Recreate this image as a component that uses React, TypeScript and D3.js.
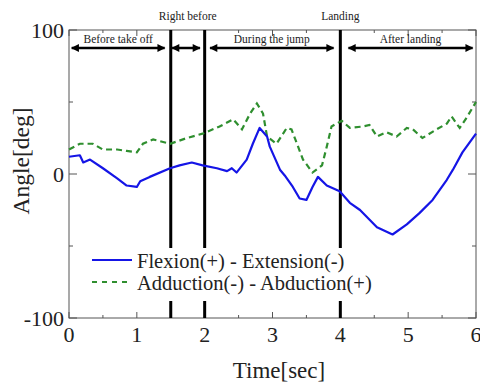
import React from "react";
import * as d3 from "d3";

const flexT = [0, 0.16, 0.21, 0.31, 0.5, 0.71, 0.85, 1.0, 1.05, 1.19, 1.49, 1.63, 1.81, 1.97, 2.18, 2.33, 2.4, 2.47, 2.62, 2.71, 2.81, 2.92, 2.96, 3.11, 3.18, 3.3, 3.4, 3.5, 3.59, 3.67, 3.8, 3.99, 4.14, 4.29, 4.54, 4.77, 4.98, 5.17, 5.36, 5.57, 5.66, 5.8, 6.0];
const flexV = [12, 13, 8, 10, 4, -3, -8, -9, -5, -2, 4, 6, 8, 6, 4, 2, 4, 1, 10, 21, 32, 26, 19, 3, -1, -9, -17, -18, -9, -2, -8, -12, -20, -25, -37, -42, -35, -27, -18, -4, 3, 15, 28];

const addT = [0, 0.16, 0.35, 0.5, 0.71, 0.85, 1.0, 1.09, 1.24, 1.49, 1.74, 1.97, 2.22, 2.42, 2.55, 2.67, 2.77, 2.86, 2.92, 3.06, 3.21, 3.28, 3.45, 3.59, 3.73, 3.8, 3.87, 4.02, 4.14, 4.33, 4.43, 4.54, 4.68, 4.83, 4.98, 5.07, 5.21, 5.42, 5.57, 5.64, 5.76, 5.86, 6.0];
const addV = [17, 21, 21, 17, 17, 16, 15, 21, 24, 21, 25, 28, 33, 38, 31, 42, 49, 42, 26, 21, 32, 31, 10, 1, 6, 19, 33, 37, 32, 33, 34, 26, 29, 26, 32, 31, 25, 31, 35, 40, 32, 39, 50];

const xTicks = [0, 1, 2, 3, 4, 5, 6];
const yTicks = [-100, 0, 100];
const phaseLines = [1.5, 2, 4];
const arrowStart = [0.04, 1.52, 2.08, 4.12];
const arrowEnd = [1.41, 1.93, 3.9, 5.95];
const arrowLabels = ["Before take off", "", "During the jump", "After landing"];
const topLabels = ["Right before", "Landing"];
const topLabelT = [1.75, 4];
const seriesNames = ["Flexion(+) - Extension(-)", "Adduction(-) - Abduction(+)"];

const FONT = "'Liberation Serif', 'Times New Roman', serif";

export default function App() {
  const x = d3.scaleLinear().domain([0, 6]).range([69, 476]);
  const y = d3.scaleLinear().domain([-100, 100]).range([318, 30]);
  const line = d3.line<number>().x((d: any) => x(d[0])).y((d: any) => y(d[1])).curve(d3.curveLinear);
  const flex = flexT.map((t, i) => [t, flexV[i]]);
  const add = addT.map((t, i) => [t, addV[i]]);
  const minorX = d3.range(0, 6.01, 0.5);
  const minorY = [-50, 50];
  const arrowY = 48;

  return (
    <svg width={480} height={383} style={{ position: "absolute", left: 0, top: 0, background: "#fff" }} fontFamily={FONT}>
      <defs>
        <marker id="ah" viewBox="0 0 10 10" refX="9" refY="5" markerWidth="4" markerHeight="3.2" orient="auto-start-reverse" markerUnits="strokeWidth">
          <path d="M0,0 L10,5 L0,10 z" fill="#000" />
        </marker>
      </defs>
      {/* frame */}
      <rect x={x(0)} y={y(100)} width={x(6) - x(0)} height={y(-100) - y(100)} fill="none" stroke="#555" strokeWidth={1} />
      {/* x ticks */}
      {minorX.map((t) => {
        const len = Number.isInteger(t) ? 6 : 3;
        return (
          <g key={"xt" + t}>
            <line x1={x(t)} x2={x(t)} y1={y(-100)} y2={y(-100) - len} stroke="#555" />
            <line x1={x(t)} x2={x(t)} y1={y(100)} y2={y(100) + len} stroke="#555" />
          </g>
        );
      })}
      {[...yTicks, ...minorY].map((v) => {
        const len = v % 100 === 0 ? 8 : 4;
        return (
          <g key={"yt" + v}>
            <line x1={x(0)} x2={x(0) + len} y1={y(v)} y2={y(v)} stroke="#555" />
            <line x1={x(6)} x2={x(6) - len} y1={y(v)} y2={y(v)} stroke="#555" />
          </g>
        );
      })}
      {xTicks.map((t) => (
        <text key={"xl" + t} x={x(t)} y={342} textAnchor="middle" fontSize={22} fill="#222">{t}</text>
      ))}
      {yTicks.map((v) => (
        <text key={"yl" + v} x={64} y={y(v) + 8} textAnchor="end" fontSize={22} fill="#222">{v}</text>
      ))}
      <text x={279} y={378} textAnchor="middle" fontSize={23} fill="#222">Time[sec]</text>
      <text transform={`translate(29,${161}) rotate(-90)`} textAnchor="middle" fontSize={23.5} fill="#222">Angle[deg]</text>
      {/* phase lines */}
      {phaseLines.map((t) => (
        <line key={"pl" + t} x1={x(t)} x2={x(t)} y1={y(100)} y2={y(-100)} stroke="#000" strokeWidth={3} />
      ))}
      {/* arrows */}
      {arrowStart.map((s, i) => (
        <g key={"ar" + i}>
          <line x1={x(s)} x2={x(arrowEnd[i])} y1={arrowY} y2={arrowY} stroke="#000" strokeWidth={2.5} markerStart="url(#ah)" markerEnd="url(#ah)" />
          {arrowLabels[i] && (
            <text x={(x(s) + x(arrowEnd[i])) / 2} y={43} textAnchor="middle" fontSize={11.5} fill="#222">{arrowLabels[i]}</text>
          )}
        </g>
      ))}
      {topLabels.map((l, i) => (
        <text key={"tl" + i} x={x(topLabelT[i])} y={20} textAnchor="middle" fontSize={11.5} fill="#222">{l}</text>
      ))}
      {/* series */}
      <path d={line(add as any) || ""} fill="none" stroke="#2f8f2f" strokeWidth={2.2} strokeDasharray="6,4" />
      <path d={line(flex as any) || ""} fill="none" stroke="#1515e6" strokeWidth={2.2} strokeLinejoin="round" />
      {/* legend */}
      <rect x={88} y={248} width={290} height={53} fill="#fff" />
      <line x1={92} x2={132} y1={260} y2={260} stroke="#1515e6" strokeWidth={1.8} />
      <line x1={92} x2={132} y1={282} y2={282} stroke="#2f8f2f" strokeWidth={1.8} strokeDasharray="5,5" />
      <text x={137} y={268} fontSize={20.5} fill="#222">{seriesNames[0]}</text>
      <text x={137} y={290} fontSize={20.5} fill="#222">{seriesNames[1]}</text>
    </svg>
  );
}
